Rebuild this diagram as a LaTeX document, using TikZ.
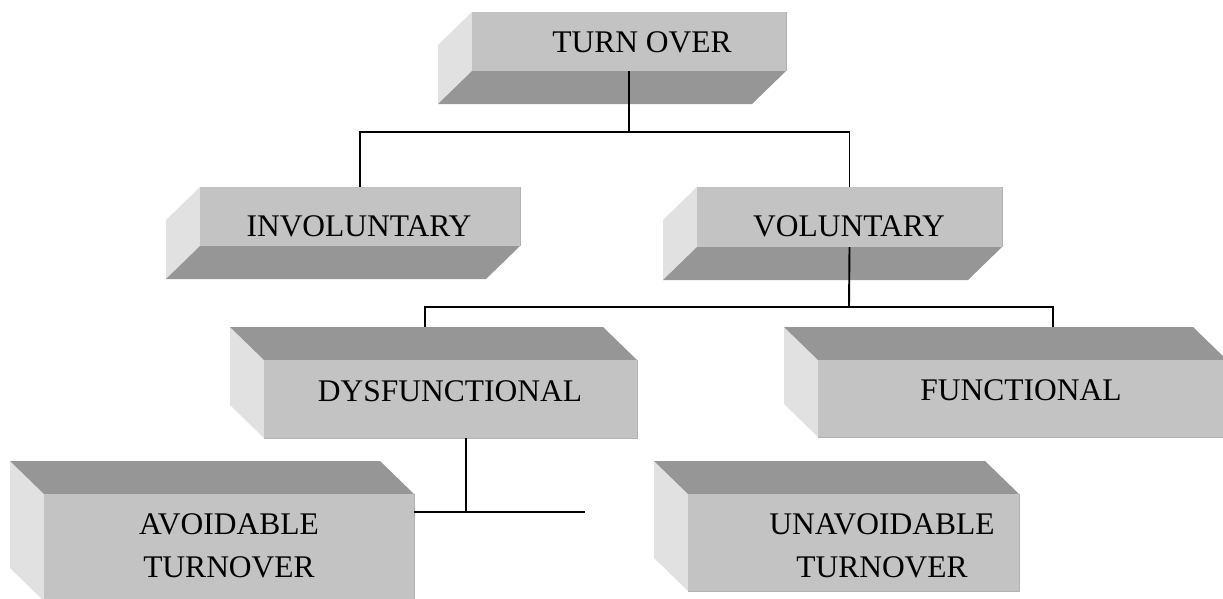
\documentclass[tikz,border=0pt]{standalone}
\usepackage{fontspec}
\setmainfont{Liberation Serif}
\definecolor{facefront}{HTML}{C3C3C3}
\definecolor{facedark}{HTML}{969696}
\definecolor{facelight}{HTML}{E1E1E1}
\definecolor{faceedge}{HTML}{B2B2B2}
\tikzset{
  frontface/.style={rectangle, inner sep=0pt, outer sep=0pt, fill=facefront, anchor=north west},
  lbl/.style={font=\fontsize{31.5}{43}\selectfont, inner sep=0pt, anchor=base, align=center},
  conn/.style={draw=black, line width=1.9pt},
}
% box seen from below-left: front, left side, bottom
\newcommand\upbox[5]{%
  \fill[facelight] (#2,#3) -- (#2-34,#3+33) -- (#2-34,#5+33) -- (#2,#5) -- cycle;
  \fill[facedark] (#2,#5) -- (#4,#5) -- (#4-34,#5+33) -- (#2-34,#5+33) -- cycle;
  \node[frontface, minimum width=#4-#2, minimum height=#5-#3] (#1) at (#2,#3) {};
  \draw[faceedge, line width=1pt] (#1.north east) -- (#1.south east);
}
% box seen from above-left: front, left side, top
\newcommand\downbox[5]{%
  \fill[facelight] (#2,#3) -- (#2-34,#3-33) -- (#2-34,#5-33) -- (#2,#5) -- cycle;
  \fill[facedark] (#2,#3) -- (#4,#3) -- (#4-34,#3-33) -- (#2-34,#3-33) -- cycle;
  \node[frontface, minimum width=#4-#2, minimum height=#5-#3] (#1) at (#2,#3) {};
  \draw[faceedge, line width=1pt] (#1.north east) -- (#1.south east) -- (#1.south west);
}
\begin{document}
\begin{tikzpicture}[x=1pt, y=-1pt]
\useasboundingbox (0,0) rectangle (1223,598);
\clip (0,0) rectangle (1223,598);
\fill[white] (0,0) rectangle (1223,598);

\upbox{turn}{472}{12}{786}{71}
\upbox{inv}{200}{187}{520}{246}
\upbox{vol}{697}{187}{1002}{247}
\downbox{dys}{264}{360}{637}{438}
\downbox{fun}{818}{360}{1227}{437}
\downbox{avo}{44}{494}{414}{601}
\downbox{unavo}{688}{494}{1019}{591}

\node[lbl] (l-turn) at (642,52) {TURN OVER};
\node[lbl] (l-inv) at (359,236) {INVOLUNTARY};
\node[lbl] (l-vol) at (849,236) {VOLUNTARY};
\node[lbl] (l-dys) at (450,401) {DYSFUNCTIONAL};
\node[lbl] (l-fun) at (1021,400) {FUNCTIONAL};
\node[lbl] (l-avo) at (229,577) {AVOIDABLE\\TURNOVER};
\node[lbl] (l-unavo) at (882,577) {UNAVOIDABLE\\TURNOVER};

\coordinate (j1) at (629,132);
\coordinate (j2) at (849,307);
\coordinate (dysin) at (425,327);
\coordinate (funin) at (1053,327);
\coordinate (j3) at (466,512);
\coordinate (jend) at (585,512);

\draw[conn] (turn.south) -- (j1);
\draw[conn] (inv.north) |- (j1) -| (vol.north);
\draw[conn] (vol.south) -- (j2);
\draw[conn] (dysin) |- (j2) -| (funin);
\draw[conn] (dys.south -| j3) -- (j3);
\draw[conn] (avo.east |- j3) -- (jend);
\end{tikzpicture}
\end{document}
